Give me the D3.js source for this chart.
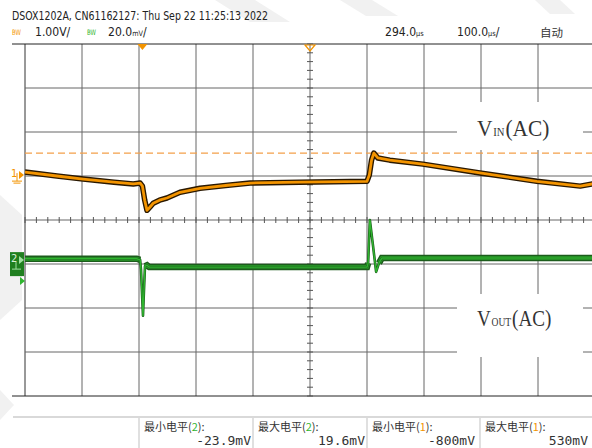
<!DOCTYPE html>
<html lang="zh">
<head>
<meta charset="UTF-8">
<title>DSOX1202A</title>
<script src="https://d3js.org/d3.v7.min.js"></script>
<style>
  body { margin: 0; background: #fff; }
  svg { display: block; }
  .hdr { font-family: "DejaVu Sans", sans-serif; fill: #222; }
  .meas { font-family: "Noto Sans CJK SC", sans-serif; font-size: 11px; fill: #333; }
  .val { font-family: "DejaVu Sans Mono", monospace; font-size: 13px; fill: #333; }
  .lbl { font-family: "Liberation Serif", serif; fill: #333; }
</style>
</head>
<body>
<svg width="592" height="448"></svg>
<script>
// --- data (time in µs relative to trigger, ch1 in V, ch2 in mV) ---
const ch1Time = [-206, -150, -104, -50, -16, -4, 0, 4, 8, 13, 19, 30, 43, 66, 101, 150, 189, 276, 394, 398, 402, 406, 413, 434, 492, 592, 692, 768, 790];
const ch1Volt = [0.07, -0.02, -0.09, -0.16, -0.2, -0.18, -0.25, -0.57, -0.8, -0.73, -0.64, -0.57, -0.52, -0.39, -0.3, -0.23, -0.18, -0.16, -0.14, 0, 0.34, 0.5, 0.39, 0.34, 0.25, 0.05, -0.14, -0.25, -0.2];
const ch2Time = [-206, -10, -4, -2.5, 1, 2.8, 4.5, 8, 12, 394, 396, 399, 404.5, 410, 415, 420, 790];
const ch2MilliVolt = [2, 2, 1.5, -3, -23.9, -12, -1.4, -1, -1.8, -1.8, 0, 19.6, 8, -4, 0, 2.3, 2.3];

const timeDiv = 100;      // µs/div
const delay = 294;        // µs
const ch1Scale = 1.0;     // V/div
const ch2Scale = 20.0;    // mV/div
const ch1Pos = 1.02;      // divisions above centre
const ch2Pos = -0.98;
const trigLevel = 0.5;    // V, ch1

const headerText = "DSOX1202A, CN61162127: Thu Sep 22 11:25:13 2022";
const measLabels = ["最小电平(", "最大电平(", "最小电平(", "最大电平("];
const measChannel = ["2", "2", "1", "1"];
const measValues = ["-23.9mV", "19.6mV", "-800mV", "530mV"];

const svg = d3.select("svg");
const W = 592, H = 448;
const plotLeft = 25, plotTop = 44, divW = 57, divH = 44;
const orange = "#f39400", green = "#2fb52f";

// watermark
svg.append("g").attr("fill", "#f1f1f1")
  .selectAll("path")
  .data([
    "M215,0 L255,0 L290,22 L250,22 Z",
    "M340,0 L372,0 L398,16 L366,16 Z",
    "M535,0 L560,0 L575,14 L550,14 Z",
    "M0,195 L22,215 L22,300 L0,320 Z",
    "M0,390 L14,405 L0,420 Z"
  ])
  .join("path").attr("d", d => d);

// time 0 is the trigger; centre of screen = delay
const x = d3.scaleLinear()
  .domain([delay - 5 * timeDiv, delay + 5 * timeDiv])
  .range([plotLeft, plotLeft + 10 * divW]);

const div = d3.scaleLinear().domain([-4, 4]).range([plotTop + 8 * divH, plotTop]);
const y1 = v => div(v / ch1Scale + ch1Pos);
const y2 = v => div(v / ch2Scale + ch2Pos);

// graticule
const grid = svg.append("g");
const vTimes = d3.range(0, 11).map(i => delay - 5 * timeDiv + i * timeDiv);
grid.selectAll("line.v").data(vTimes).join("line")
  .attr("x1", d => x(d)).attr("x2", d => x(d))
  .attr("y1", div(4)).attr("y2", div(-4))
  .attr("stroke", (d, i) => (i === 0 ? "#333" : "#666")).attr("stroke-width", 1);
grid.selectAll("line.h").data(d3.range(-4, 5)).join("line")
  .attr("x1", d => (Math.abs(d) === 4 ? 12 : plotLeft)).attr("x2", W)
  .attr("y1", d => div(d)).attr("y2", d => div(d))
  .attr("stroke", d => (Math.abs(d) === 4 ? "#222" : "#666")).attr("stroke-width", 1);

// centre axis ticks
const centreT = d3.range(0, 51).map(i => delay - 5 * timeDiv + i * timeDiv / 5);
grid.selectAll("line.tx").data(centreT).join("line")
  .attr("x1", d => x(d)).attr("x2", d => x(d))
  .attr("y1", div(0) - 3).attr("y2", div(0) + 3).attr("stroke", "#555");
const centreV = d3.range(-20, 21).map(i => i / 5);
grid.selectAll("line.ty").data(centreV).join("line")
  .attr("x1", x(delay) - 3).attr("x2", x(delay) + 3)
  .attr("y1", d => div(d)).attr("y2", d => div(d)).attr("stroke", "#555");

// trigger level line
svg.append("line")
  .attr("x1", plotLeft).attr("x2", W)
  .attr("y1", y1(trigLevel)).attr("y2", y1(trigLevel))
  .attr("stroke", "#f3a04a").attr("stroke-width", 1.2).attr("stroke-dasharray", "7,4");

// labels with white background, squeezed sideways like the narrow serif of the original
function sigLabel(yBox, hBox, base, sub, size, sx) {
  svg.append("rect").attr("x", 457).attr("y", yBox).attr("width", 126).attr("height", hBox).attr("fill", "#fff");
  const t = svg.append("text").attr("class", "lbl")
    .attr("transform", `translate(477,${base}) scale(${sx},1)`)
    .attr("font-size", size);
  t.append("tspan").text("V");
  t.append("tspan").attr("font-size", size * 0.5).attr("dx", 1).text(sub);
  t.append("tspan").attr("dx", 1).text("(AC)");
}
sigLabel(102, 48, 136, "IN", 24, 0.89);
sigLabel(294, 63, 326, "OUT", 23, 0.83);

// traces
const ch1 = ch1Time.map((t, i) => [t, ch1Volt[i]]);
const ch2 = ch2Time.map((t, i) => [t, ch2MilliVolt[i]]);
const line1 = d3.line().x(d => x(d[0])).y(d => y1(d[1]));
const line2 = d3.line().x(d => x(d[0])).y(d => y2(d[1]));
// the wide persistence band only shows on the settled parts of ch2
const band2 = d3.line().defined(d => Math.abs(d[1]) < 2.5).x(d => x(d[0])).y(d => y2(d[1]));

svg.append("path").datum(ch2).attr("d", band2).attr("fill", "none")
  .attr("stroke", "#1c5c1c").attr("stroke-width", 6.5);
svg.append("path").datum(ch2).attr("d", band2).attr("fill", "none")
  .attr("stroke", green).attr("stroke-width", 3.5);
svg.append("path").datum(ch2).attr("d", line2).attr("fill", "none")
  .attr("stroke", "#1c5c1c").attr("stroke-width", 2.6).attr("stroke-linejoin", "round");
svg.append("path").datum(ch2).attr("d", line2).attr("fill", "none")
  .attr("stroke", green).attr("stroke-width", 1.4).attr("stroke-linejoin", "round");

svg.append("path").datum(ch1).attr("d", line1).attr("fill", "none")
  .attr("stroke", "#2a1800").attr("stroke-width", 5.5).attr("stroke-linejoin", "round");
svg.append("path").datum(ch1).attr("d", line1).attr("fill", "none")
  .attr("stroke", orange).attr("stroke-width", 2.8).attr("stroke-linejoin", "round");

// trigger markers at top
const tx = x(0), cx = x(delay);
svg.append("path").attr("d", `M${tx - 5},${plotTop} L${tx + 5},${plotTop} L${tx},${plotTop + 6} Z`).attr("fill", orange);
svg.append("path").attr("d", `M${cx - 5},${plotTop + 1} L${cx + 5},${plotTop + 1} L${cx},${plotTop + 7} Z`)
  .attr("fill", "none").attr("stroke", orange).attr("stroke-width", 1.2);

// channel markers
const g1 = y1(0);
svg.append("text").attr("x", 11).attr("y", g1 + 2).attr("font-size", 10).attr("fill", orange)
  .attr("font-family", "DejaVu Sans").text("1");
svg.append("path").attr("d", `M19,${g1 - 4} L24,${g1} L19,${g1 + 4} Z`).attr("fill", orange);
svg.append("path").attr("d", `M17,${g1 - 2} L17,${g1 + 6} M12,${g1 + 6} L22,${g1 + 6} M13.5,${g1 + 8} L20.5,${g1 + 8}`)
  .attr("stroke", orange).attr("fill", "none");

const g2 = y2(0);
svg.append("rect").attr("x", 10).attr("y", g2 - 11).attr("width", 14).attr("height", 24).attr("fill", "#1f7f1f");
svg.append("text").attr("x", 11).attr("y", g2 - 1).attr("font-size", 10).attr("fill", "#d8f0d8")
  .attr("font-family", "DejaVu Sans").text("2");
svg.append("path").attr("d", `M19,${g2 - 7} L24,${g2 - 3} L19,${g2 + 1} Z`).attr("fill", "#9fe09f");
svg.append("path").attr("d", `M16,${g2 - 1} L16,${g2 + 6} M12,${g2 + 6} L21,${g2 + 6}`)
  .attr("stroke", "#9fe09f").attr("fill", "none");
svg.append("path").attr("d", `M20,${g2 + 14} L25,${g2 + 18} L20,${g2 + 22} Z`).attr("fill", green);

// header
svg.append("text").attr("class", "hdr").attr("x", 12).attr("y", 20).attr("font-size", 12.5)
  .attr("textLength", 256).attr("lengthAdjust", "spacingAndGlyphs").text(headerText);

function bw(xp, col) {
  svg.append("text").attr("x", xp).attr("y", 35).attr("font-size", 7.5).attr("fill", col)
    .attr("font-family", "DejaVu Sans").attr("textLength", 9).attr("lengthAdjust", "spacingAndGlyphs").text("BW");
}
bw(12, orange);
bw(87, green);

// number followed by a small unit; squeezed sideways like the scope's narrow font
function stat(xp, num, unit, tail) {
  const t = svg.append("text").attr("class", "hdr")
    .attr("transform", `translate(${xp},36) scale(0.87,1)`)
    .attr("font-size", 12.5).attr("fill", "#444");
  t.append("tspan").text(num);
  if (unit) t.append("tspan").attr("font-size", 7.5).text(unit);
  if (tail) t.append("tspan").text(tail);
}
stat(35, ch1Scale.toFixed(2) + "V/");
stat(108, ch2Scale.toFixed(1), "mV", "/");
stat(385, delay.toFixed(1), "µs", "");
stat(457, timeDiv.toFixed(1), "µs", "/");
svg.append("text").attr("x", 540).attr("y", 37).attr("font-size", 11.5).attr("fill", "#333")
  .attr("font-family", "Noto Sans CJK SC").text("自动");

// measurement bar
svg.append("line").attr("x1", 13).attr("x2", W).attr("y1", 417).attr("y2", 417).attr("stroke", "#ccc").attr("stroke-width", 1.5);
const cellX = [139, 253, 367, 480];
const cellR = [251, 365, 475, 588];
measValues.forEach((v, i) => {
  svg.append("line").attr("x1", cellX[i]).attr("x2", cellX[i]).attr("y1", 418).attr("y2", H).attr("stroke", "#ccc").attr("stroke-width", 1.2);
  const t = svg.append("text").attr("class", "meas").attr("x", cellX[i] + 5).attr("y", 431);
  t.append("tspan").text(measLabels[i]);
  t.append("tspan").attr("fill", measChannel[i] === "1" ? orange : green).text(measChannel[i]);
  t.append("tspan").text("):");
  svg.append("text").attr("class", "val").attr("x", cellR[i]).attr("y", 445).attr("text-anchor", "end").text(v);
});
</script>
</body>
</html>
